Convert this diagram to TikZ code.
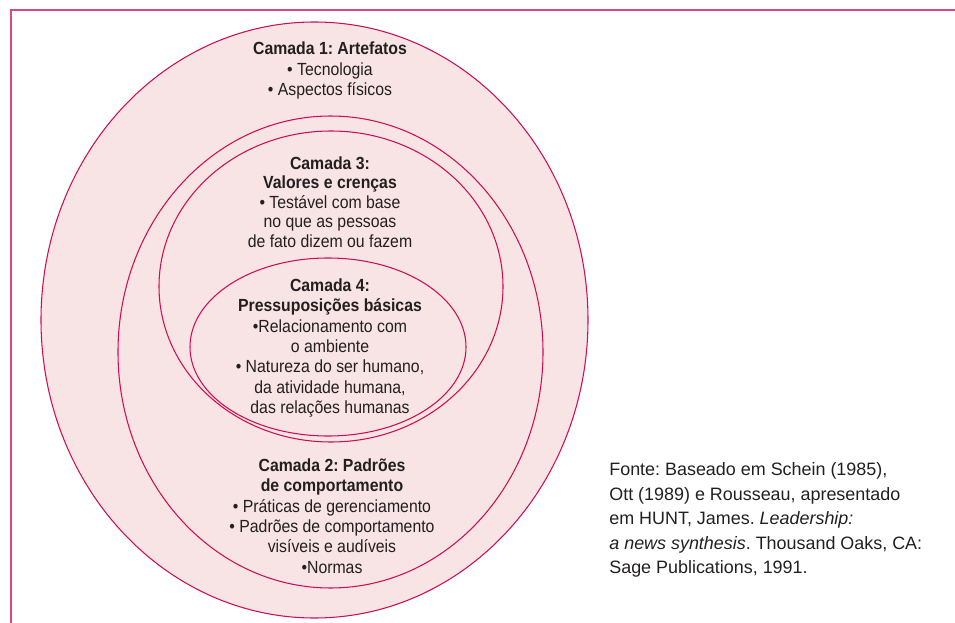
\documentclass[tikz,border=0pt]{standalone}
\usepackage{fontspec}
\setmainfont{Liberation Sans}[FakeStretch=0.9]
\newfontfamily\fontefont{Liberation Sans}
\usepackage{tikz}
\usetikzlibrary{positioning}
\frenchspacing

\definecolor{layerfill}{HTML}{F8E4E4}
\definecolor{layerline}{HTML}{CC0E55}
\definecolor{framepink}{HTML}{DB4A7E}
\definecolor{inktext}{HTML}{231F20}

\tikzset{
    layertext/.style={text=inktext, align=center, inner sep=0pt,
        font=\fontsize{10}{11.6}\selectfont},
    fontetext/.style={text=inktext, align=left, inner sep=0pt, anchor=west,
        font=\fontefont\fontsize{10.2}{13.9}\selectfont},
}

\begin{document}
\begin{tikzpicture}[x=0.2mm, y=-0.2mm]
    \def\px{0.2mm}
    \useasboundingbox (0,0) rectangle (955,623);

    % open frame: top and left edge only
    \draw[framepink, line width=1.1pt] (955,10) -- (11,10) -- (11,623);

    % layers: fill everything first, then the outlines
    \foreach \cx/\cy/\rx/\ry in {
        314.5/320/273.5/298,
        330.5/352/212.5/236,
        331/286.5/172/155.5,
        328/347/138/89}{
        \fill[layerfill] (\cx,\cy) ellipse [x radius=\rx*\px, y radius=\ry*\px];
    }
    \foreach \cx/\cy/\rx/\ry in {
        314.5/320/273.5/298,
        330.5/352/212.5/236,
        331/286.5/172/155.5,
        328/347/138/89}{
        \draw[layerline, line width=0.6pt] (\cx,\cy) ellipse [x radius=\rx*\px, y radius=\ry*\px];
    }

    % layer labels
    \node[layertext] (camada1) at (330,70.5)
        {\textbf{Camada 1: Artefatos}\\• Tecnologia\\• Aspectos físicos};
    \node[layertext, font=\fontsize{10}{11.1}\selectfont] (camada3) at (330,202)
        {\textbf{Camada 3:}\\\textbf{Valores e crenças}\\• Testável com base\\no que as pessoas\\de fato dizem ou fazem};
    \node[layertext] (camada4) at (330,348)
        {\textbf{Camada 4:}\\\textbf{Pressuposições básicas}\\•Relacionamento com\\o ambiente\\• Natureza do ser humano,\\da atividade humana,\\das relações humanas};
    \node[layertext] (camada2) at (332,516)
        {\textbf{Camada 2: Padrões}\\\textbf{de comportamento}\\• Práticas de gerenciamento\\• Padrões de comportamento\\visíveis e audíveis\\•Normas};

    % source note
    \node[fontetext] (fonte) at (609,520)
        {Fonte: Baseado em Schein (1985),\\Ott (1989) e Rousseau, apresentado\\em HUNT, James. \textit{Leadership:}\\\textit{a news synthesis}. Thousand Oaks, CA:\\Sage Publications, 1991.};
\end{tikzpicture}
\end{document}
